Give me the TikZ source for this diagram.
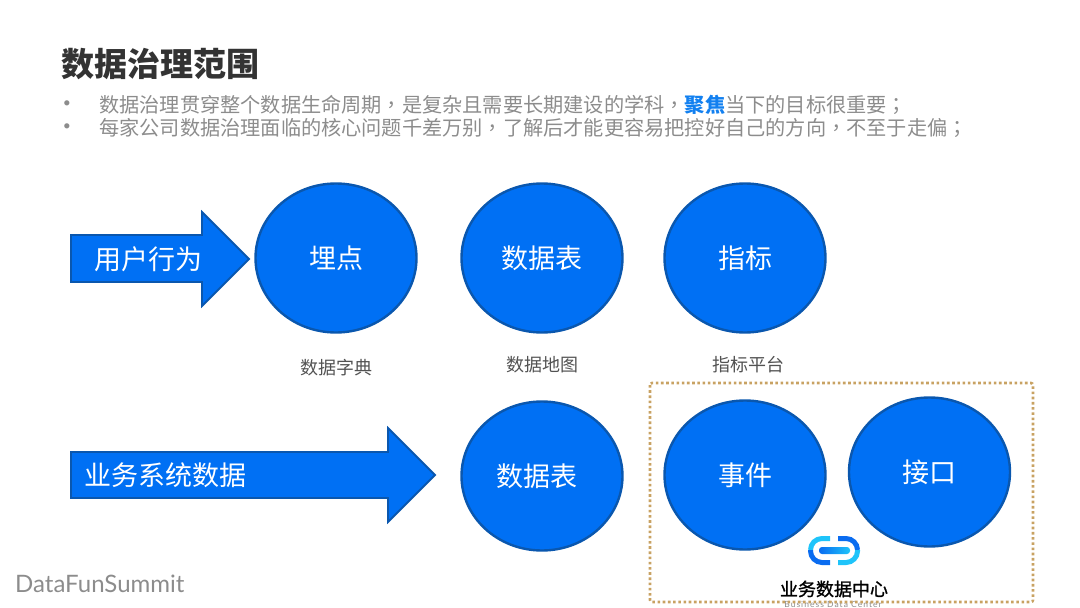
\documentclass[tikz,border=0pt]{standalone}
\usepackage{fontspec}
\setmainfont{Noto Sans CJK SC}
\newfontfamily\latinfont{Lato}
\newfontfamily\spacedfont[LetterSpace=12]{Lato}
\newfontfamily\punctfont{Noto Sans CJK TC}
\newfontfamily\mediumfont[FakeBold=1.2]{Noto Sans CJK SC}
\usetikzlibrary{shapes.geometric}
\definecolor{bubblefill}{HTML}{0070F4}
\definecolor{bubbleline}{HTML}{0A57AE}
\definecolor{bodygray}{HTML}{8C8C8C}
\definecolor{titledark}{HTML}{333333}
\definecolor{focusblue}{HTML}{1280F0}
\definecolor{boxtan}{HTML}{C8A262}
\definecolor{logocyan}{HTML}{1FC4FA}
\definecolor{logoblue}{HTML}{0A6CF0}
\newcommand{\comma}{{\punctfont ，}}
\newcommand{\semi}{{\punctfont ；}}
\tikzset{
  bubble/.style={ellipse, draw=bubbleline, fill=bubblefill, line width=2.4pt, minimum width=161pt, minimum height=149pt, inner sep=0pt, text=white, font=\fontsize{27}{30}\selectfont},
  bigarrow/.style={draw=bubbleline, fill=bubblefill, line width=1.8pt, line join=miter},
  arrowtext/.style={anchor=west, text=white, inner sep=0pt, font=\fontsize{27}{30}\selectfont},
  caption/.style={text=titledark!85, inner sep=0pt, font=\fontsize{18}{20}\selectfont},
  bullettext/.style={anchor=west, text=bodygray, inner sep=0pt, font=\fontsize{20.2}{24}\selectfont},
  bulletdot/.style={text=bodygray, inner sep=0pt, font=\latinfont\fontsize{14}{16}\selectfont},
  logoarc/.style={line width=5pt, rounded corners=11.5pt}
}
\begin{document}
\begin{tikzpicture}[x=1pt,y=-1pt]
\useasboundingbox (0,0) rectangle (1080,608);

\node[anchor=west, inner sep=0pt, text=titledark, font=\fontsize{33}{36}\selectfont\bfseries] (title) at (61,64) {数据治理范围};
\node[bulletdot] (dotA) at (67,104) {•};
\node[bullettext] (lineA) at (99,104.5) {数据治理贯穿整个数据生命周期\comma 是复杂且需要长期建设的学科\comma {\color{focusblue}\bfseries 聚焦}当下的目标很重要\semi};
\node[bulletdot] (dotB) at (67,127) {•};
\node[bullettext] (lineB) at (99,127.5) {每家公司数据治理面临的核心问题千差万别\comma 了解后才能更容易把控好自己的方向\comma 不至于走偏\semi};

% top row
\draw[bigarrow] (71,235) -- (202,235) -- (202,212) -- (249,259) -- (202,306) -- (202,282) -- (71,282) -- cycle;
\node[arrowtext] (userflow) at (94,259) {用户行为};
\node[bubble] (track) at (336,258) {埋点};
\node[bubble] (tableA) at (542,258) {数据表};
\node[bubble] (metric) at (745,258) {指标};
\node[caption] (dict) at (336,368) {数据字典};
\node[caption] (atlas) at (542,365) {数据地图};
\node[caption] (platform) at (748,365) {指标平台};

% bottom row
\draw[bigarrow] (71,452) -- (388,452) -- (388,428) -- (435,475) -- (388,522) -- (388,498) -- (71,498) -- cycle;
\node[arrowtext] (bizdata) at (84,475) {业务系统数据};
\node[bubble] (tableB) at (542,476) {};
\node[text=white, inner sep=0pt, font=\fontsize{27}{30}\selectfont] (tableBtext) at (537,476) {数据表};
\node[bubble] (event) at (745,475) {事件};
\node[bubble] (api) at (929.5,472) {接口};

% logo
\draw[logoarc, logocyan] (830,538.5) -- (810.5,538.5) -- (810.5,550);
\draw[logoarc, logoblue] (810.5,550) -- (810.5,562.5) -- (830,562.5);
\draw[logoarc, logoblue] (838,538.5) -- (857.5,538.5) -- (857.5,550);
\draw[logoarc, logocyan] (857.5,550) -- (857.5,562.5) -- (838,562.5);
\shade[left color=logoblue, right color=logocyan, rounded corners=3pt] (819,547) rectangle (850,554);
\node[inner sep=0pt, text=black, font=\mediumfont\fontsize{18}{20}\selectfont] (center) at (834,589) {业务数据中心};
\node[inner sep=0pt, text=bodygray, font=\spacedfont\fontsize{8.5}{10}\selectfont] (centeren) at (833,604.5) {Business Data Center};
\draw[boxtan, line width=2.6pt, dash pattern=on 2.6pt off 2.6pt, rounded corners=2pt] (650,383) rectangle (1033,602);

\node[anchor=west, inner sep=0pt, text=bodygray, font=\latinfont\fontsize{24}{26}\selectfont] (brand) at (15,584) {DataFunSummit};
\end{tikzpicture}
\end{document}
